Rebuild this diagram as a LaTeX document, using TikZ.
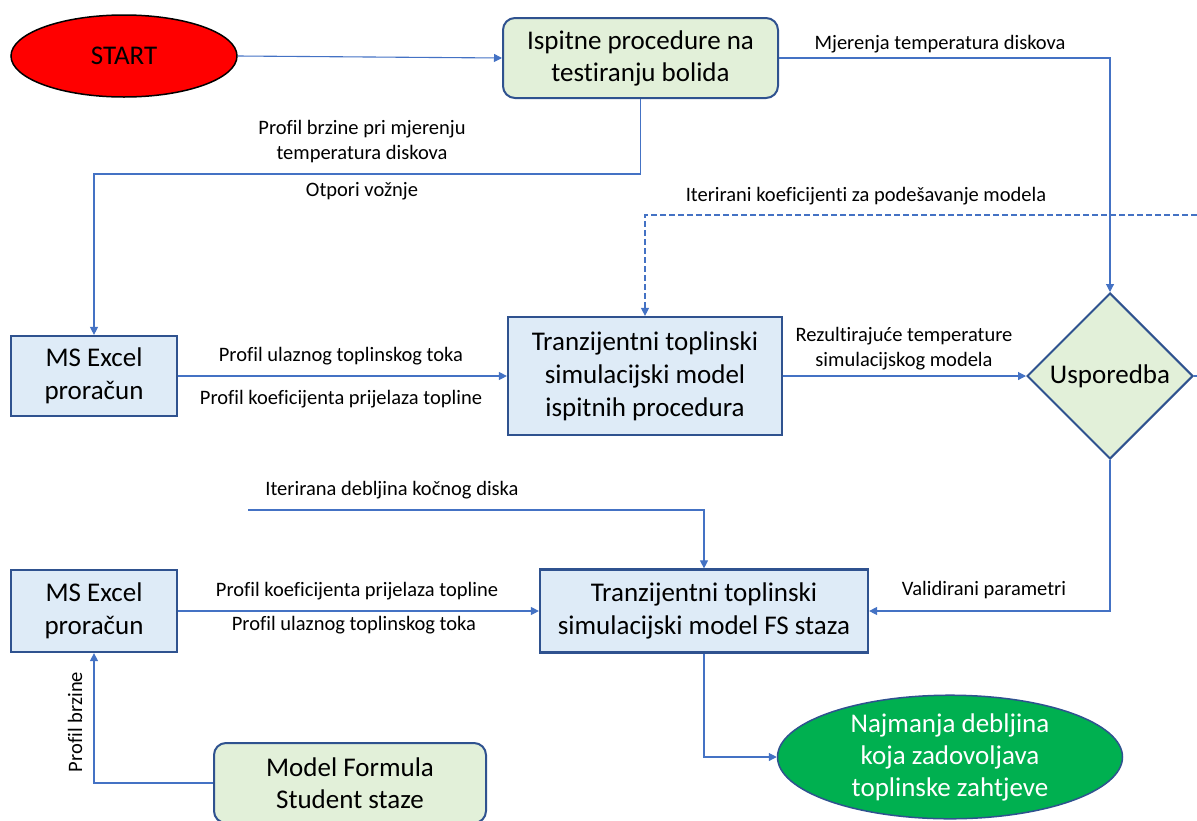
\documentclass[tikz,border=0pt]{standalone}
\usepackage{fontspec}
\setmainfont{Carlito}[Ligatures=NoCommon]
\usetikzlibrary{arrows.meta,shapes.geometric}
\definecolor{lineblue}{HTML}{4472C4}
\definecolor{borderblue}{HTML}{2F528F}
\definecolor{boxblue}{HTML}{DEEBF7}
\definecolor{boxgreen}{HTML}{E2F0D9}
\definecolor{endgreen}{HTML}{00B050}
\tikzset{
  conn/.style={draw=lineblue, line width=1.1pt, -{Triangle[width=8pt,length=8pt]}},
  plain/.style={draw=lineblue, line width=1.1pt},
  bluebox/.style={draw=borderblue, line width=2.2pt, fill=boxblue, align=center, font=\fontsize{27}{33}\selectfont, inner sep=0pt},
  greenbox/.style={draw=borderblue, line width=2pt, fill=boxgreen, rounded corners=12pt, align=center, font=\fontsize{27}{32}\selectfont, inner sep=0pt},
  lbl/.style={font=\fontsize{20.5}{25}\selectfont, align=center, inner sep=0pt},
}
\begin{document}
\begin{tikzpicture}[x=1pt,y=-1pt]
\useasboundingbox (0,0) rectangle (1197,820);
% nodes
\node[ellipse, draw=black, line width=1.5pt, fill=red, minimum width=226pt, minimum height=82pt, inner sep=0pt, font=\fontsize{27}{31}\selectfont] (start) at (124,56) {START};
\node[greenbox, minimum width=275pt, minimum height=80pt] (isp) at (640.5,58) {Ispitne procedure na\\testiranju bolida};
\node[bluebox, minimum width=166pt, minimum height=80pt] (ex1) at (94,376) {MS Excel\\proračun};
\node[bluebox, minimum width=274pt, minimum height=118pt] (tr1) at (645,376) {Tranzijentni toplinski\\simulacijski model\\ispitnih procedura};
\node[diamond, draw=borderblue, line width=2pt, fill=boxgreen, minimum width=166pt, minimum height=166pt, inner sep=0pt, font=\fontsize{27}{31}\selectfont] (dia) at (1110,376) {Usporedba};
\node[bluebox, minimum width=166pt, minimum height=82pt] (ex2) at (94,611) {MS Excel\\proračun};
\node[bluebox, minimum width=328pt, minimum height=83pt] (tr2) at (704,611) {Tranzijentni toplinski\\simulacijski model FS staza};
\node[ellipse, draw=borderblue, line width=1.5pt, fill=endgreen, text=white, minimum width=345pt, minimum height=118pt, inner sep=0pt, align=center, font=\fontsize{27}{32}\selectfont] (fin) at (950,757) {Najmanja debljina\\koja zadovoljava\\toplinske zahtjeve};
\node[greenbox, minimum width=272pt, minimum height=80pt] (mfs) at (350,783) {Model Formula\\Student staze};
% free ends
\coordinate (dashR) at (1197,215);
\coordinate (diaR) at (1197,376);
\coordinate (itL) at (248,510);
% connectors
\draw[conn] (start.east) -- (isp.west);
\draw[conn] (isp.south) -- ++(0,75) -| (ex1.north);
\draw[conn] (isp.east) -| (dia.north);
\draw[conn, dashed, dash pattern=on 6pt off 3pt] (dashR) -| (tr1.north);
\draw[conn] (ex1.east) -- (tr1.west);
\draw[conn] (tr1.east) -- (dia.west);
\draw[plain] (dia.east) -- (diaR);
\draw[conn] (dia.south) |- (tr2.east);
\draw[conn] (itL) -| (tr2.north);
\draw[conn] (ex2.east) -- (tr2.west);
\draw[conn] (tr2.south) |- (fin.west);
\draw[conn] (mfs.west) -| (ex2.south);
% labels
\node[lbl] (l1) at (362,142) {Profil brzine pri mjerenju\\temperatura diskova};
\node[lbl] (l2) at (362,191) {Otpori vožnje};
\node[lbl] (l3) at (940,44) {Mjerenja temperatura diskova};
\node[lbl] (l4) at (866,196) {Iterirani koeficijenti za podešavanje modela};
\node[lbl] (l5) at (341,356) {Profil ulaznog toplinskog toka};
\node[lbl] (l6) at (341,399) {Profil koeficijenta prijelaza topline};
\node[lbl] (l7) at (904,349) {Rezultirajuće temperature\\simulacijskog modela};
\node[lbl] (l8) at (392,490) {Iterirana debljina kočnog diska};
\node[lbl] (l9) at (357,591) {Profil koeficijenta prijelaza topline};
\node[lbl] (l10) at (354,625) {Profil ulaznog toplinskog toka};
\node[lbl] (l11) at (984,590) {Validirani parametri};
\node[lbl, rotate=90] (l12) at (75,722) {Profil brzine};
\end{tikzpicture}
\end{document}
